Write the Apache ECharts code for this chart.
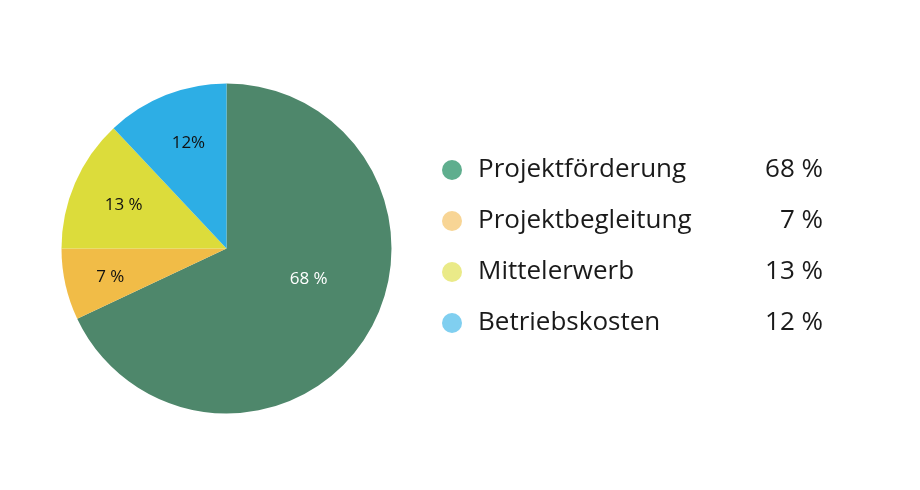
<!DOCTYPE html>
<html><head><meta charset="utf-8">
<script src="https://cdn.jsdelivr.net/npm/echarts@6/dist/echarts.min.js"></script>
<style>html,body{margin:0;padding:0;background:#fff}#c{width:920px;height:490px}</style>
</head><body><div id="c"></div>
<script>
const categories = ['Projektförderung', 'Projektbegleitung', 'Mittelerwerb', 'Betriebskosten'];
const values = [68, 7, 13, 12];
const sliceLabels = ['68 %', '7 %', '13 %', '12%'];
const sliceColors = ['#4e876b', '#f1bc47', '#dcdc3b', '#2daee5'];
const legendColors = ['#5fae8e', '#f8d595', '#eaea88', '#80cff0'];

const chart = echarts.init(document.getElementById('c'));
const font = '"Open Sans", "Noto Sans", sans-serif';
const smallPad = [[0, 0, 0, 0], [0, 4, 0, 0], [0, 0, 0, 9], [0, 0, 0, 10]];
chart.setOption({
  animation: false,
  legend: {
    orient: 'vertical',
    left: 442, top: 155, padding: 0,
    itemWidth: 20, itemHeight: 20, itemGap: 21,
    icon: 'circle',
    selectedMode: false,
    data: categories.map((n, i) => ({ name: n, itemStyle: { color: legendColors[i] } })),
    formatter: name => {
      const i = categories.indexOf(name);
      return '{n|' + name + '}{v|' + values[i] + ' %}';
    },
    textStyle: {
      fontFamily: font, fontSize: 26, color: '#1a1a1a', lineHeight: 30,
      rich: {
        n: { fontFamily: font, fontSize: 26, color: '#1a1a1a', width: 250, padding: [0, 0, 0, 11], lineHeight: 30 },
        v: { fontFamily: font, fontSize: 26, color: '#1a1a1a', width: 95, align: 'right', lineHeight: 30 }
      }
    }
  },
  series: [
    {
      type: 'pie', center: [226.5, 248.5], radius: [0, 165], startAngle: 90, clockwise: true,
      silent: true,
      label: { show: true, position: 'inside',
        formatter: p => p.dataIndex === 0 ? '{t|' + sliceLabels[0] + '}\n{e| }' : '',
        padding: [0, 0, 0, 20],
        rich: {
          t: { fontFamily: font, fontSize: 17, color: '#ffffff', lineHeight: 20 },
          e: { fontSize: 10, lineHeight: 30 }
        } },
      labelLine: { show: false },
      data: categories.map((n, i) => ({ name: n, value: values[i], itemStyle: { color: sliceColors[i] } }))
    },
    {
      type: 'pie', center: [226.5, 248.5], radius: [0, 228], startAngle: 90, clockwise: true,
      silent: true, z: 5,
      label: { show: true, position: 'inside',
        formatter: p => p.dataIndex === 0 ? '' : '{e| }\n{t|' + sliceLabels[p.dataIndex] + '}',
        rich: {
          t: { fontFamily: font, fontSize: 17, color: '#111111', lineHeight: 20 },
          e: { fontSize: 4, lineHeight: 6 }
        } },
      labelLine: { show: false },
      itemStyle: { color: 'rgba(0,0,0,0)', borderWidth: 0 },
      emphasis: { disabled: true },
      data: categories.map((n, i) => ({ name: n + ' ', value: values[i], label: { padding: smallPad[i] } }))
    }
  ]
});
</script></body></html>
